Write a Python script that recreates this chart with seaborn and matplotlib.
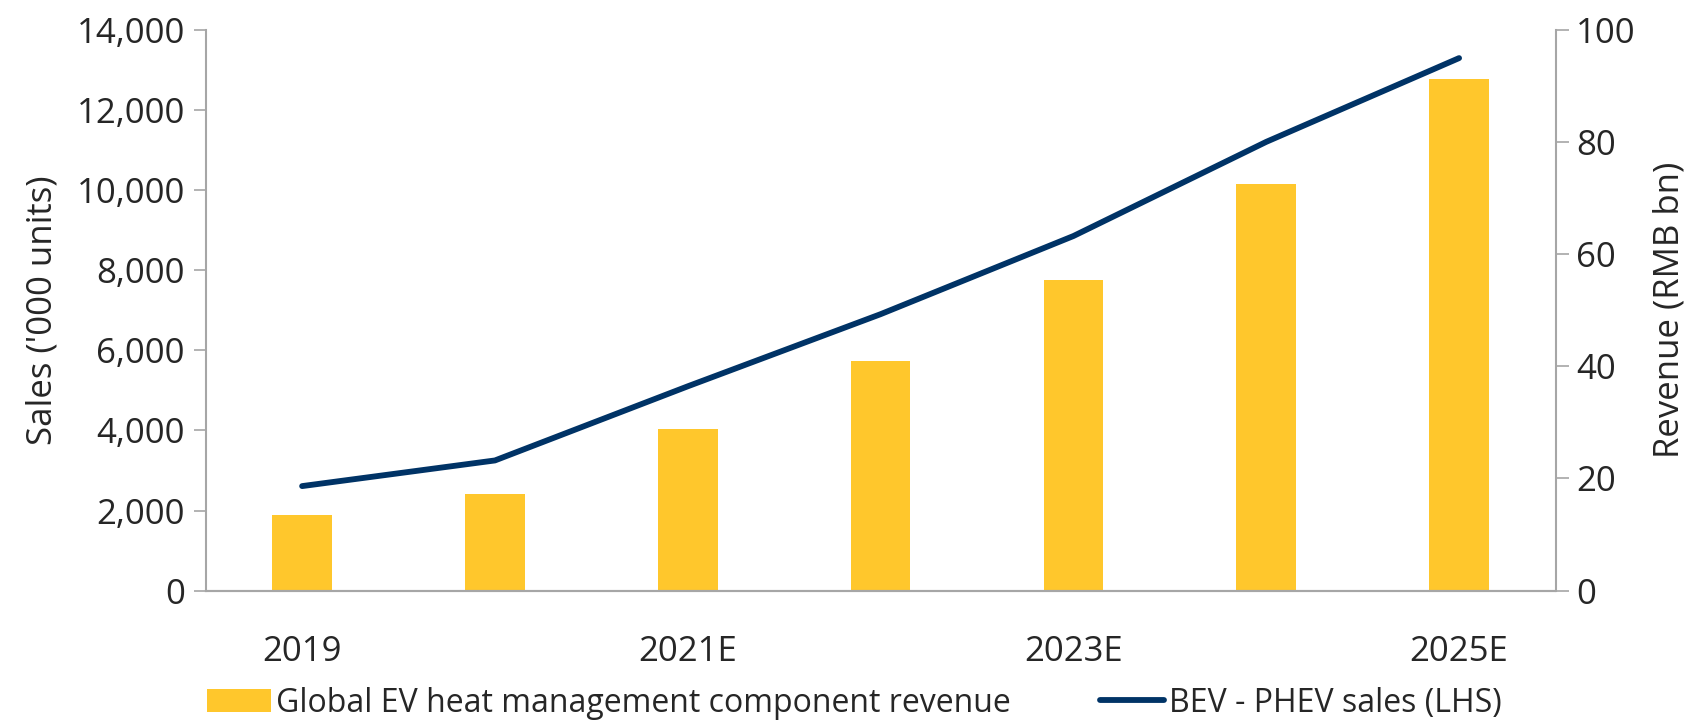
import numpy as np
import pandas as pd
import seaborn as sns
import matplotlib.pyplot as plt
from matplotlib.ticker import FuncFormatter, FixedLocator
from matplotlib.patches import Patch
from matplotlib.lines import Line2D

# Data
years = ["2019", "2020E", "2021E", "2022E", "2023E", "2024E", "2025E"]
year_labels = ["2019", "", "2021E", "", "2023E", "", "2025E"]
revenue = [13.5, 17.2, 28.9, 41.0, 55.4, 72.4, 91.2]        # RMB bn, right axis
sales = [2610, 3250, 5100, 6900, 8850, 11200, 13290]        # '000 units, left axis

bar_color = "#FFC72C"
line_color = "#003366"
grey = "#A6A6A6"

sns.set_style("white")
plt.rcParams["font.family"] = ["Open Sans", "DejaVu Sans"]

fig, ax = plt.subplots(figsize=(17, 7.23), dpi=100)
fig.subplots_adjust(left=0.121, right=0.915, top=0.959, bottom=0.183)
ax2 = ax.twinx()

df = pd.DataFrame({"year": years, "revenue": revenue, "sales": sales})

# bars on the right axis
sns.barplot(data=df, x="year", y="revenue", ax=ax2, color=bar_color,
            saturation=1, width=0.31, linewidth=0)
# line on the left axis, kept above the bars
sns.lineplot(data=df, x="year", y="sales", ax=ax, color=line_color,
             linewidth=4.2, sort=False)
ax.set_zorder(ax2.get_zorder() + 1)
ax.patch.set_visible(False)

ax.set_xlim(-0.5, 6.5)
ax.set_ylim(0, 14000)
ax2.set_ylim(0, 100)
ax.set_yticks(np.arange(0, 14001, 2000))
ax2.set_yticks(np.arange(0, 101, 20))
ax.yaxis.set_major_formatter(FuncFormatter(lambda v, p: f"{int(v):,}"))

ax.set_xticks(range(len(years)))
ax.set_xticklabels(year_labels)
ax.xaxis.set_minor_locator(FixedLocator(np.arange(-0.5, 7, 1)))
ax.tick_params(axis="x", which="major", length=0, pad=32, labelsize=25)
ax.tick_params(axis="x", which="minor", length=9, width=1.2, color=grey)
ax.tick_params(axis="y", length=9, width=1.2, color=grey, labelsize=25, pad=6)
ax2.tick_params(axis="y", length=9, width=1.2, color=grey, labelsize=25, pad=6)
ax2.tick_params(axis="x", length=0)

ax.set_xlabel("")
ax2.set_xlabel("")
ax.set_ylabel("Sales ('000 units)", fontsize=25, labelpad=12)
ax2.set_ylabel("Revenue (RMB bn)", fontsize=25, labelpad=12)

for a in (ax, ax2):
    a.spines["top"].set_visible(False)
    for s in ("left", "right", "bottom"):
        a.spines[s].set_color(grey)
        a.spines[s].set_linewidth(1.5)
ax.spines["right"].set_visible(False)
ax2.spines["left"].set_visible(False)

handles = [Patch(facecolor=bar_color, edgecolor="none"),
           Line2D([0], [0], color=line_color, linewidth=4.2)]
labels = ["Global EV heat management component revenue", "BEV - PHEV sales (LHS)"]
fig.legend(handles, labels, loc="lower left", bbox_to_anchor=(0.105, -0.035),
           ncol=2, frameon=False, fontsize=23, handlelength=2.0,
           handletextpad=0.15, columnspacing=2.8)

fig.savefig("out.png", dpi=100)
